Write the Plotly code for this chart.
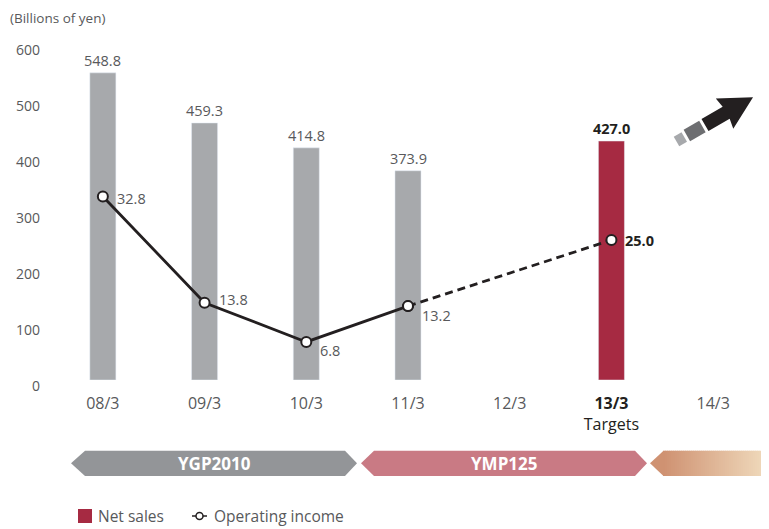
import plotly.graph_objects as go

# ---------------- data ----------------
categories = ["08/3", "09/3", "10/3", "11/3", "12/3", "13/3", "14/3"]
tick_labels = ["08/3", "09/3", "10/3", "11/3", "12/3",
               "<span style='color:#231f20'><b>13/3</b><br>Targets</span>", "14/3"]
sales_cats = ["08/3", "09/3", "10/3", "11/3"]
sales_vals = [548.8, 459.3, 414.8, 373.9]
target_cats = ["13/3"]
target_sales = [427.0]
oi_cats = ["08/3", "09/3", "10/3", "11/3"]
oi_vals = [32.8, 13.8, 6.8, 13.2]
oi_target_cats = ["11/3", "13/3"]
oi_target_vals = [13.2, 25.0]
y_ticks = [0, 100, 200, 300, 400, 500, 600]
periods = ["YGP2010", "YMP125"]
legend_names = ["Net sales", "Operating income"]

# ---------------- styles ----------------
FONT = "Open Sans"
GRAY_TXT = "#58595b"
DARK = "#231f20"
BAR_GRAY = "#a7a9ac"
BAR_RED = "#a62a42"
oi_label_yshift = [-2, 3, -9, -9]   # label placement per point

OFF = 8                      # page body margin of the html page
W, H = 769 - OFF, 529 - OFF
ML, MR, MT, MB = 52 - OFF, 5, 33 - OFF, 149
PW, PH = W - ML - MR, H - MT - MB
Y0 = H - MB


def pp(X, Y):
    """screen pixel -> paper coords"""
    return (X - OFF - ML) / PW, (Y0 - (Y - OFF)) / PH


def path(pts):
    s = ""
    for i, (X, Y) in enumerate(pts):
        x, y = pp(X, Y)
        s += ("M" if i == 0 else "L") + f"{x:.5f},{y:.5f}"
    return s + "Z"


fig = go.Figure()

fig.add_trace(go.Bar(x=sales_cats, y=sales_vals, marker_color=BAR_GRAY, width=0.256,
                     name=legend_names[0], showlegend=False, yaxis="y"))
fig.add_trace(go.Bar(x=target_cats, y=target_sales, marker_color=BAR_RED, width=0.256,
                     name=legend_names[0], showlegend=False, yaxis="y"))
fig.add_trace(go.Scatter(x=oi_cats, y=oi_vals, mode="lines+markers", name=legend_names[1],
                         showlegend=False,
                         line=dict(color=DARK, width=2.8),
                         marker=dict(size=10, color="white", line=dict(color=DARK, width=2)),
                         yaxis="y2"))
fig.add_trace(go.Scatter(x=oi_target_cats, y=oi_target_vals, mode="lines+markers",
                         name=legend_names[1], showlegend=False,
                         line=dict(color=DARK, width=2.8, dash="8px,5px"),
                         marker=dict(size=10, color="white", line=dict(color=DARK, width=2)),
                         yaxis="y2"))

annotations = []
for c, v in zip(sales_cats, sales_vals):
    annotations.append(dict(x=c, y=v, xref="x", yref="y", text=f"{v:.1f}", showarrow=False,
                            yanchor="bottom", yshift=1,
                            font=dict(family=FONT, size=14.5, color=GRAY_TXT)))
for c, v in zip(target_cats, target_sales):
    annotations.append(dict(x=c, y=v, xref="x", yref="y", text=f"<b>{v:.1f}</b>", showarrow=False,
                            yanchor="bottom", yshift=1,
                            font=dict(family=FONT, size=14.5, color=DARK)))
for c, v, ys in zip(oi_cats, oi_vals, oi_label_yshift):
    annotations.append(dict(x=c, y=v, xref="x", yref="y2", text=f"{v:.1f}", showarrow=False,
                            xanchor="left", xshift=12, yshift=ys,
                            font=dict(family=FONT, size=14.5, color=GRAY_TXT)))
annotations.append(dict(x=oi_target_cats[-1], y=oi_target_vals[-1], xref="x", yref="y2",
                        text=f"<b>{oi_target_vals[-1]:.1f}</b>", showarrow=False,
                        xanchor="left", xshift=12,
                        font=dict(family=FONT, size=14.5, color=DARK)))

# unit label
ux, uy = pp(8, 18)
annotations.append(dict(x=ux, y=uy, xref="paper", yref="paper", text="(Billions of yen)",
                        showarrow=False, xanchor="left", yanchor="middle",
                        font=dict(family=FONT, size=13.5, color=GRAY_TXT)))

shapes = []
# period bands
band_top, band_mid, band_bot = 450.7, 463.3, 476
shapes.append(dict(type="path", xref="paper", yref="paper", line=dict(width=0),
                   fillcolor="#939598",
                   path=path([(71, band_mid), (85, band_top), (345, band_top), (357, band_mid),
                              (345, band_bot), (85, band_bot)])))
shapes.append(dict(type="path", xref="paper", yref="paper", line=dict(width=0),
                   fillcolor="#c97a84",
                   path=path([(361, band_mid), (374, band_top), (635, band_top), (647, band_mid),
                              (635, band_bot), (374, band_bot)])))
c0 = (0xcf, 0x92, 0x72)
c1 = (0xf1, 0xdd, 0xbf)
shapes.append(dict(type="path", xref="paper", yref="paper", line=dict(width=0),
                   fillcolor="rgb(%d,%d,%d)" % c0,
                   path=path([(650, band_mid), (663.5, band_top), (663.5, band_bot)])))
x_start, x_end, step = 663, 770, 2
n_strips = (x_end - x_start) // step + 1
for i in range(n_strips):
    X = x_start + i * step
    f = i / (n_strips - 1)
    col = tuple(int(round(a + (b - a) * f)) for a, b in zip(c0, c1))
    shapes.append(dict(type="path", xref="paper", yref="paper", line=dict(width=0),
                       fillcolor="rgb(%d,%d,%d)" % col,
                       path=path([(X, band_top), (X + step + 0.6, band_top),
                                  (X + step + 0.6, band_bot), (X, band_bot)])))

for name, cx in zip(periods, [214, 504]):
    px_, py_ = pp(cx, band_mid)
    annotations.append(dict(x=px_, y=py_, xref="paper", yref="paper", text=f"<b>{name}</b>",
                            showarrow=False, xanchor="center", yanchor="middle",
                            font=dict(family=FONT, size=17, color="white")))

# decorative growth arrow (top right)
O = (705.0, 125.0)
u = (0.864, -0.5)
n = (0.5, 0.866)


def pt(s, w):
    return (O[0] + u[0] * s + n[0] * w, O[1] + u[1] * s + n[1] * w)


def block(s0, s1, hw):
    return [pt(s0, -hw), pt(s1, -hw), pt(s1, hw), pt(s0, hw)]


shapes.append(dict(type="path", xref="paper", yref="paper", line=dict(width=0),
                   fillcolor="#a7a9ac", path=path(block(-33, -24, 5.5))))
shapes.append(dict(type="path", xref="paper", yref="paper", line=dict(width=0),
                   fillcolor="#6d6e71", path=path(block(-21, -3, 6.5))))
shapes.append(dict(type="path", xref="paper", yref="paper", line=dict(width=0),
                   fillcolor=DARK,
                   path=path([pt(0, -7), pt(24.5, -7), pt(22.6, -17.5), pt(55.6, 0),
                              pt(22.6, 17.5), pt(24.5, 7), pt(0, 7)])))

# legend (drawn to match the compact reference legend)
leg_y = 516
shapes.append(dict(type="path", xref="paper", yref="paper", line=dict(width=0),
                   fillcolor=BAR_RED,
                   path=path([(78, leg_y - 7), (92, leg_y - 7), (92, leg_y + 7), (78, leg_y + 7)])))
lx0, ly0 = pp(192, leg_y)
lx1, _ = pp(207, leg_y)
shapes.append(dict(type="line", xref="paper", yref="paper", x0=lx0, x1=lx1, y0=ly0, y1=ly0,
                   line=dict(color=DARK, width=1.5)))
cxa, cya = pp(196, leg_y - 3.5)
cxb, cyb = pp(203, leg_y + 3.5)
shapes.append(dict(type="circle", xref="paper", yref="paper", x0=cxa, x1=cxb, y0=cya, y1=cyb,
                   fillcolor="white", line=dict(color=DARK, width=1.5)))
for name, X in zip(legend_names, [96, 212]):
    ax, ay = pp(X, leg_y)
    annotations.append(dict(x=ax, y=ay, xref="paper", yref="paper", text=name,
                            showarrow=False, xanchor="left", yanchor="middle",
                            font=dict(family=FONT, size=15.5, color=GRAY_TXT)))

fig.update_layout(
    width=W, height=H,
    margin=dict(l=ML, r=MR, t=MT, b=MB, pad=0, autoexpand=False),
    paper_bgcolor="white", plot_bgcolor="white",
    barmode="overlay",
    showlegend=False,
    font=dict(family=FONT, color=GRAY_TXT),
    xaxis=dict(type="category", categoryorder="array", categoryarray=categories,
               range=[-0.5, 6.5], tickmode="array", tickvals=categories, ticktext=tick_labels,
               showline=False, showgrid=False, zeroline=False, ticks="",
               ticklabelstandoff=12,
               tickfont=dict(family=FONT, size=16, color=GRAY_TXT)),
    yaxis=dict(range=[0, 620], tickvals=y_ticks, showgrid=False, zeroline=False,
               showline=False, ticks="", ticklabelstandoff=11, ticklabelshift=6,
               tickfont=dict(family=FONT, size=14, color=GRAY_TXT)),
    yaxis2=dict(range=[0, 62], overlaying="y", visible=False),
    annotations=annotations,
    shapes=shapes,
    hovermode="closest",
)

fig.write_html("out.html")
